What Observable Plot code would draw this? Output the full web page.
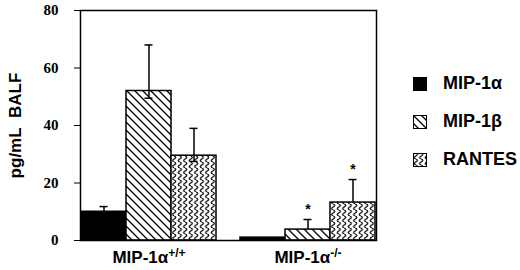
<!DOCTYPE html>
<html><head><meta charset="utf-8">
<script src="https://cdn.jsdelivr.net/npm/d3@7"></script>
<script src="https://cdn.jsdelivr.net/npm/@observablehq/plot@0.6"></script>
<style>
body{margin:0;background:#fff;}
#wrap{position:relative;width:520px;height:270px;overflow:hidden;}
.lg{position:absolute;left:413px;display:flex;align-items:center;font:bold 18px "Liberation Sans",Arial,sans-serif;color:#000;}
.lg svg{margin-right:16px;}
</style></head><body><div id="wrap"></div>
<script>
const groups = ["MIP-1α+/+", "MIP-1α-/-"];
const groupBase = ["MIP-1α", "MIP-1α"];
const groupSup = ["+/+", "-/-"];
const series = ["MIP-1α", "MIP-1β", "RANTES"];
const wtMean = [10, 52, 29.5];
const koMean = [1, 3.8, 13.2];
const wtUpper = [11.8, 68, 39];
const koUpper = [null, 7.3, 21.2];
const wtLowerCap = [null, 49.5, 27.5];
const koLowerCap = [null, null, null];
const wtSignificant = [false, false, false];
const koSignificant = [false, true, true];
const yTicks = [0, 20, 40, 60, 80];
const fills = ["black", "url(#diag)", "url(#wave)"];

const means = [wtMean, koMean], uppers = [wtUpper, koUpper], lowers = [wtLowerCap, koLowerCap], sigs = [wtSignificant, koSignificant];
const data = [];
groups.forEach((g, gi) => series.forEach((s, si) => data.push({
  group: g, series: s, mean: means[gi][si], upper: uppers[gi][si], lower: lowers[gi][si], sig: sigs[gi][si]
})));
const errData = data.filter(d => d.upper != null);
const lowData = data.filter(d => d.lower != null);
const sigData = data.filter(d => d.sig);

const plot = Plot.plot({
  width: 520, height: 270,
  marginLeft: 68, marginRight: 131, marginTop: 10, marginBottom: 30,
  style: {background: "white", color: "black", fontFamily: "'Liberation Sans', Arial, sans-serif", overflow: "visible"},
  fx: {domain: groups, paddingInner: 0.1375, paddingOuter: 0.075, label: null, axis: "bottom", tickSize: 0, tickPadding: 10},
  x: {domain: series, padding: 0, axis: null},
  y: {domain: [0, 80], ticks: yTicks, tickSize: 6, tickPadding: 4, tickFormat: () => "", label: "pg/mL\u00a0\u00a0BALF", labelAnchor: "center", labelOffset: 72},
  color: {domain: series, range: fills},
  marks: [
    Plot.barY(data, {fx: "group", x: "series", y: "mean", fill: "series", stroke: "black", strokeWidth: 1.5}),
    Plot.ruleX(errData, {fx: "group", x: "series", y1: "mean", y2: "upper", stroke: "black", strokeWidth: 1.5}),
    Plot.tickY(errData, {fx: "group", x: "series", y: "upper", stroke: "black", strokeWidth: 1.5, insetLeft: 18.5, insetRight: 18.5}),
    Plot.tickY(lowData, {fx: "group", x: "series", y: "lower", stroke: "black", strokeWidth: 1.5, insetLeft: 18.5, insetRight: 18.5}),
    Plot.ruleX(lowData, {fx: "group", x: "series", y1: "lower", y2: "mean", stroke: "black", strokeWidth: 1.5}),
    Plot.text(sigData, {fx: "group", x: "series", y: "upper", text: () => "*", dy: -10, fontSize: 14, fontWeight: "bold"}),
    Plot.text(yTicks, {fx: () => groups[0], y: d => d, text: d => String(d), frameAnchor: "left", dx: -22, textAnchor: "end",
      fontFamily: "'Liberation Serif', 'Times New Roman', serif", fontSize: 15, fontWeight: "bold", fill: "black"}),
    Plot.frame({facet: "super", stroke: "black", strokeWidth: 1.5})
  ]
});

const svg = d3.select(plot);
svg.insert("defs", ":first-child").html(`
<pattern id="diag" patternUnits="userSpaceOnUse" width="8" height="8">
 <rect width="8" height="8" fill="white"/>
 <path d="M-2,-2 L10,10 M-2,6 L2,10 M6,-2 L10,2" stroke="black" stroke-width="1.3" fill="none"/>
</pattern>
<pattern id="wave" patternUnits="userSpaceOnUse" width="5.5" height="6">
 <rect width="5.5" height="6" fill="white"/>
 <path d="M2.75,0 C4.75,1 4.75,2 2.75,3 C0.75,4 0.75,5 2.75,6" stroke="black" stroke-width="1.3" fill="none"/>
</pattern>`);

function setFont(sel, family, size) {
  sel.style("font-family", family).style("font-size", size + "px").style("font-weight", "bold");
}
svg.selectAll("text").each(function() {
  const t = this.textContent.trim();
  const sel = d3.select(this);
  const gi = groups.indexOf(t);
  if (gi >= 0) {
    sel.text(null);
    setFont(sel, "'Liberation Sans', Arial, sans-serif", 17);
    sel.append("tspan").text(groupBase[gi]);
    sel.append("tspan").attr("dy", "-0.45em").style("font-size", "12px").text(groupSup[gi]);
  } else if (t.includes("BALF")) {
    const clean = t.replace(/[↑→↓←]/g, "").trim();
    sel.selectAll("tspan").remove();
    sel.text(clean);
    setFont(sel, "'Liberation Sans', Arial, sans-serif", 17);
  }
});

const wrap = document.getElementById("wrap");
wrap.append(plot);

const rowsY = [84, 122, 160];
series.forEach((s, i) => {
  const row = d3.select(wrap).append("div").attr("class", "lg").style("top", (rowsY[i] - 11) + "px");
  const sw = row.append("svg").attr("width", 14).attr("height", 14);
  sw.append("rect").attr("x", 0.5).attr("y", 0.5).attr("width", 13).attr("height", 13)
    .attr("fill", fills[i]).attr("stroke", "black").attr("stroke-width", 1);
  row.append("span").text(s);
});
</script>
</body></html>
